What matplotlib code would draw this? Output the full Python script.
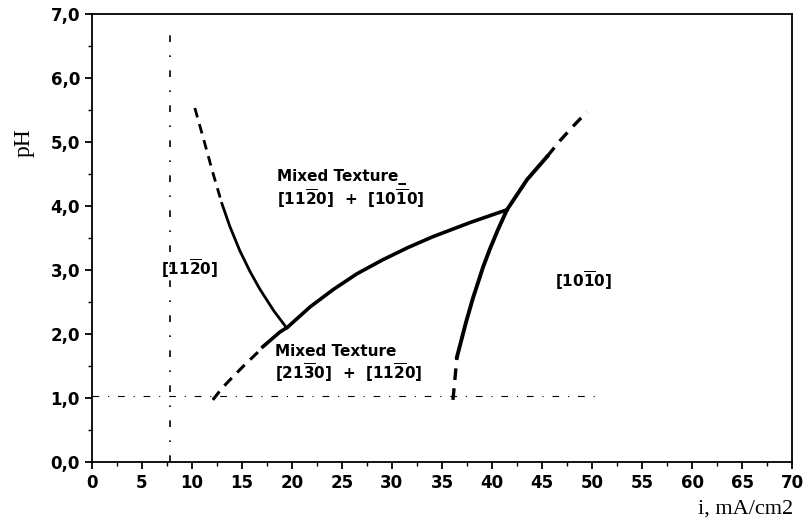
import matplotlib
matplotlib.use("Agg")
import matplotlib.pyplot as plt
import numpy as np
from matplotlib.ticker import MultipleLocator, FuncFormatter

# Boundary curves (i in mA/cm2, pH)
left_dash_x = [10.3, 11.2, 12.1, 13.0]
left_dash_y = [5.53, 5.03, 4.52, 4.04]
left_solid_x = [13.0, 13.8, 14.8, 15.8, 16.8, 18.2, 19.5]
left_solid_y = [4.04, 3.68, 3.30, 2.98, 2.70, 2.36, 2.09]

mid_dash_x = [12.1, 13.0, 14.1, 15.3, 16.5, 17.1]
mid_dash_y = [0.97, 1.15, 1.33, 1.52, 1.70, 1.80]
mid_solid_x = [17.1, 18.8, 19.6, 21.8, 24.1, 26.5, 29.1, 31.6, 34.1, 37.8, 41.5]
mid_solid_y = [1.80, 2.03, 2.11, 2.42, 2.69, 2.94, 3.16, 3.35, 3.52, 3.74, 3.94]

right_dash_lo_x = [36.1, 36.3, 36.5]
right_dash_lo_y = [0.97, 1.30, 1.64]
right_solid_x = [36.5, 36.9, 37.4, 38.1, 39.1, 39.8, 40.6, 41.5, 43.5, 45.5]
right_solid_y = [1.64, 1.88, 2.18, 2.56, 3.04, 3.33, 3.63, 3.94, 4.41, 4.77]
right_dash_hi_x = [45.5, 46.8, 48.2, 49.5]
right_dash_hi_y = [4.77, 5.02, 5.26, 5.47]

vline_x = 7.8
vline_y = [0.0, 6.7]
hline_y = 1.03
hline_x = [0.0, 51.0]

x_ticks = list(range(0, 71, 5))
y_ticks = [0, 1, 2, 3, 4, 5, 6, 7]

fig = plt.figure(figsize=(8.05, 5.29), dpi=100)
ax = fig.add_axes([0.114, 0.1267, 0.870, 0.847])

dash = (0, (3.5, 2.5))
ax.plot(left_dash_x, left_dash_y, color='black', lw=2.0, ls=dash)
ax.plot(left_solid_x, left_solid_y, color='black', lw=2.0, solid_joinstyle='round')
ax.plot(mid_dash_x, mid_dash_y, color='black', lw=2.2, ls=dash)
ax.plot(mid_solid_x, mid_solid_y, color='black', lw=2.6, solid_joinstyle='round')
ax.plot(right_dash_lo_x, right_dash_lo_y, color='black', lw=2.4, ls=dash)
ax.plot(right_solid_x, right_solid_y, color='black', lw=2.8, solid_joinstyle='round')
ax.plot(right_dash_hi_x, right_dash_hi_y, color='black', lw=2.4, ls=dash)

ax.plot([vline_x, vline_x], vline_y, color='black', lw=1.2, ls=(0, (4, 8, 1, 8)))
ax.plot(hline_x, [hline_y, hline_y], color='black', lw=0.8, ls=(0, (6, 8, 1, 8)))

tfont = dict(family='DejaVu Sans', weight='bold', fontsize=11)
ax.text(18.5, 4.45, 'Mixed Texture_', ha='left', va='center', **tfont)
ax.text(18.5, 4.11, r'[11$\mathbf{\overline{2}}$0]  +  [10$\mathbf{\overline{1}}$0]', ha='left', va='center', **tfont)
ax.text(18.3, 1.72, 'Mixed Texture', ha='left', va='center', **tfont)
ax.text(18.3, 1.40, r'[21$\mathbf{\overline{3}}$0]  +  [11$\mathbf{\overline{2}}$0]', ha='left', va='center', **tfont)
ax.text(6.9, 3.02, r'[11$\mathbf{\overline{2}}$0]', ha='left', va='center', **tfont)
ax.text(46.3, 2.84, r'[10$\mathbf{\overline{1}}$0]', ha='left', va='center', **tfont)

ax.set_xlim(0, 70)
ax.set_ylim(0, 7)
ax.set_xticks(x_ticks)
ax.set_yticks(y_ticks)
ax.xaxis.set_minor_locator(MultipleLocator(2.5))
ax.yaxis.set_minor_locator(MultipleLocator(0.5))
ax.yaxis.set_major_formatter(FuncFormatter(lambda v, p: f"{v:.1f}".replace('.', ',')))
ax.tick_params(which='major', direction='out', length=5, width=1.3, labelsize=12)
ax.tick_params(which='minor', direction='out', length=3, width=1.0)
for lab in ax.get_xticklabels() + ax.get_yticklabels():
    lab.set_fontweight('bold')
for s in ax.spines.values():
    s.set_linewidth(1.3)

fig.text(0.03, 0.73, 'pH', rotation=90, ha='center', va='center',
         family='Liberation Serif', fontsize=17)
fig.text(0.985, 0.02, 'i, mA/cm2', ha='right', va='bottom',
         family='Liberation Serif', fontsize=16)

fig.savefig('out.png', dpi=100)
